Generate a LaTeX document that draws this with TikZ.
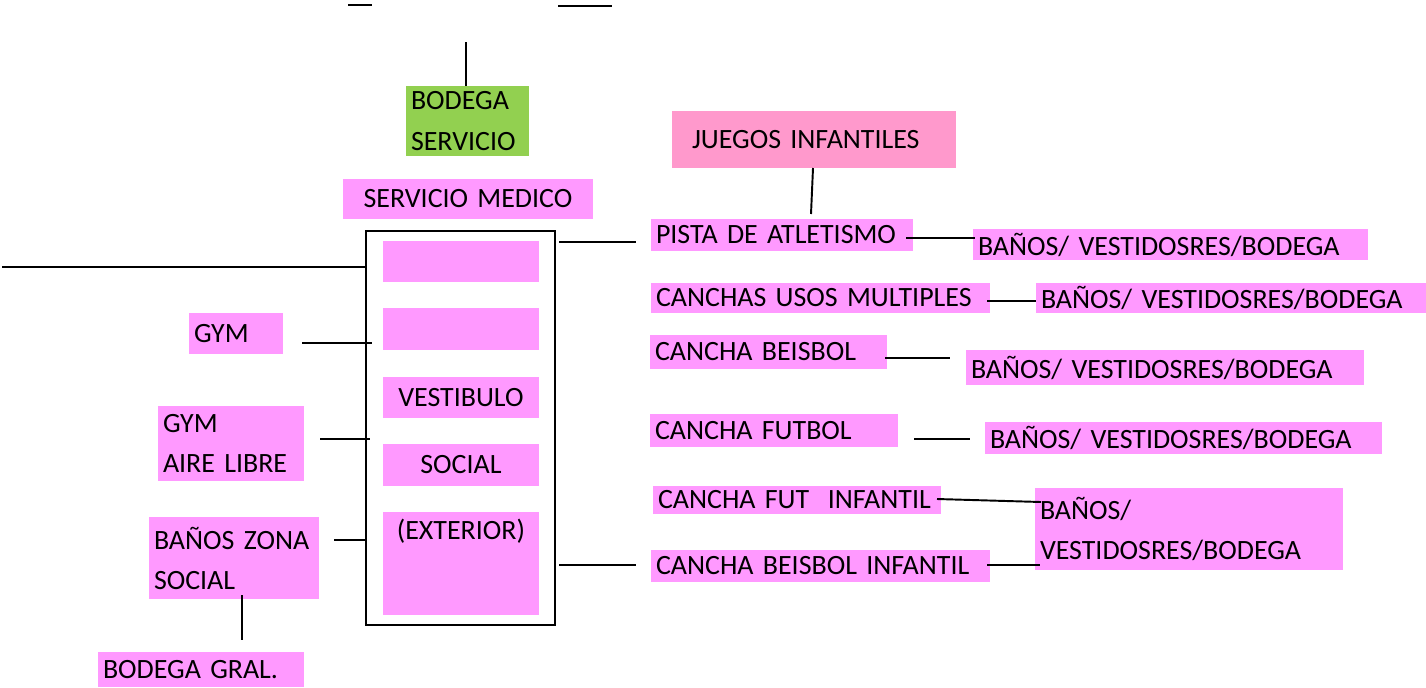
\documentclass[tikz,border=0pt]{standalone}
\usepackage{fontspec}
\setmainfont{Carlito}
\newdimen\px
\px=0.02cm
\definecolor{rosa}{HTML}{FF99FF}
\definecolor{rosaj}{HTML}{FF99CC}
\definecolor{verde}{HTML}{92D050}
\tikzset{
  caja/.style={fill=rosa, inner xsep=5\px, inner ysep=0pt, align=left,
    font=\fontsize{15.9}{22.8}\selectfont},
  linea/.style={line width=1.1pt},
}
\begin{document}
\begin{tikzpicture}[x=0.02cm, y=-0.02cm]
\useasboundingbox (0,0) rectangle (1426,687);

\node[caja, fill=verde, text width=113\px, minimum height=70\px] (bodserv) at (467.5,121) {BODEGA\\SERVICIO};
\node[caja, align=center, text width=240\px, minimum height=40\px] (sermed) at (468,199) {SERVICIO MEDICO};

\node[draw, line width=1.3pt, minimum width=189\px, minimum height=394\px, inner sep=0pt] (edif) at (460.5,428) {};
\node[caja, text width=146\px, minimum height=41\px] (e1) at (461,261.5) {};
\node[caja, text width=146\px, minimum height=42\px] (e2) at (461,329) {};
\node[caja, align=center, text width=146\px, minimum height=41\px] (vest) at (461,397.5) {VESTIBULO};
\node[caja, align=center, text width=146\px, minimum height=42\px] (soc) at (461,465) {SOCIAL};
\node[caja, align=center, text width=146\px, text height=23\px, text depth=72\px, inner ysep=4\px, anchor=north] (ext) at (461,512) {(EXTERIOR)};

\node[caja, text width=84\px, minimum height=41\px] (gym) at (236,333.5) {GYM};
\node[caja, text width=136\px, minimum height=75\px] (gymal) at (231,443.5) {GYM\\AIRE LIBRE};
\node[caja, text width=160\px, minimum height=82\px] (banzs) at (234,558) {BAÑOS ZONA\\SOCIAL};
\node[caja, text width=196\px, minimum height=35\px] (bodgral) at (201,669.5) {BODEGA GRAL.};

\node[caja, fill=rosaj, inner xsep=20\px, text width=244\px, minimum height=57\px] (juegos) at (814,139.5) {JUEGOS INFANTILES};

\node[caja, text width=252\px, minimum height=32\px] (pista) at (782,235) {PISTA DE ATLETISMO};
\node[caja, text width=329\px, minimum height=30\px] (usos) at (820.5,298) {CANCHAS USOS MULTIPLES};
\node[caja, text width=227\px, minimum height=34\px] (beis) at (768.5,352) {CANCHA BEISBOL};
\node[caja, text width=238\px, minimum height=33\px] (fut) at (774,430.5) {CANCHA FUTBOL};
\node[caja, text width=278\px, minimum height=28\px] (futinf) at (797,500) {CANCHA FUT\ \ INFANTIL};
\node[caja, text width=329\px, minimum height=32\px] (beisinf) at (820.5,566) {CANCHA BEISBOL INFANTIL};

\node[caja, text width=385\px, minimum height=31\px] (b1) at (1170.5,244.5) {BAÑOS/ VESTIDOSRES/BODEGA};
\node[caja, text width=380\px, minimum height=30\px] (b2) at (1231,298) {BAÑOS/ VESTIDOSRES/BODEGA};
\node[caja, text width=388\px, minimum height=35\px] (b3) at (1165,367.5) {BAÑOS/ VESTIDOSRES/BODEGA};
\node[caja, text width=387\px, minimum height=32\px] (b4) at (1183.5,438) {BAÑOS/ VESTIDOSRES/BODEGA};
\node[caja, text width=298\px, minimum height=82\px] (b5) at (1189,529) {BAÑOS/\\VESTIDOSRES/BODEGA};

\coordinate (sup1a) at (348,5);
\coordinate (sup1b) at (372,5);
\coordinate (sup2a) at (558,6);
\coordinate (sup2b) at (612,6);
\coordinate (bsa) at (466,42);
\coordinate (izq) at (2,267);
\coordinate (gyma) at (302,343);
\coordinate (gymb) at (372,343);
\coordinate (gala) at (320,439);
\coordinate (galb) at (370,439);
\coordinate (bzsa) at (334,540);
\coordinate (bzsb) at (367,540);
\coordinate (bzsc) at (242,595);
\coordinate (bzsd) at (242,640);
\coordinate (dera) at (559,242);
\coordinate (derb) at (636,242);
\coordinate (derc) at (559,565);
\coordinate (derd) at (636,565);
\coordinate (jua) at (813,168);
\coordinate (jub) at (811,214);
\coordinate (pia) at (906,238);
\coordinate (pib) at (975,238);
\coordinate (usa) at (987,301);
\coordinate (usb) at (1036,301);
\coordinate (bea) at (885,358);
\coordinate (beb) at (950,358);
\coordinate (fua) at (914,439);
\coordinate (fub) at (970,439);
\coordinate (fia) at (937,499);
\coordinate (fib) at (1041,502);
\coordinate (bia) at (987,565);
\coordinate (bib) at (1040,565);

\draw[linea] (sup1a) -- (sup1b);
\draw[linea] (sup2a) -- (sup2b);
\draw[linea] (bsa) -- (bsa |- bodserv.north);
\draw[linea] (izq) -- (izq -| edif.west);
\draw[linea] (gyma) -- (gymb);
\draw[linea] (gala) -- (galb);
\draw[linea] (bzsa) -- (bzsb);
\draw[linea] (bzsc) -- (bzsd);
\draw[linea] (dera) -- (derb);
\draw[linea] (derc) -- (derd);
\draw[linea] (jua) -- (jub);
\draw[linea] (pia) -- (pib);
\draw[linea] (usa) -- (usb);
\draw[linea] (bea) -- (beb);
\draw[linea] (fua) -- (fub);
\draw[linea] (fia) -- (fib);
\draw[linea] (bia) -- (bib);
\end{tikzpicture}
\end{document}
